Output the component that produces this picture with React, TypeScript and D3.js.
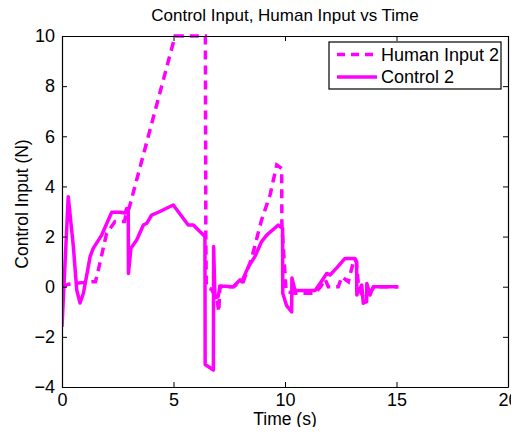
import React, { useEffect, useRef } from 'react';
import * as d3 from 'd3';

// Control 2 (solid)
const ctrlT = [0, 0.28, 0.51, 0.66, 0.81, 0.96, 1.18, 1.26, 1.4, 1.78, 2.23, 2.6, 2.83, 2.9, 2.97, 2.98, 3.09, 3.35, 3.65, 3.8, 4.02, 4.32, 4.99, 5.66, 5.89, 6.41, 6.42, 6.79, 6.8, 6.86, 7.0, 7.09, 7.68, 7.98, 8.06, 8.36, 8.65, 8.95, 9.18, 9.7, 9.89, 9.9, 10.07, 10.3, 10.31, 10.45, 11.35, 11.57, 11.87, 12.02, 12.32, 12.69, 13.14, 13.21, 13.22, 13.44, 13.51, 13.66, 13.67, 13.81, 13.96, 15.08];
const ctrlV = [-1.6, 3.59, 1.6, -0.13, -0.65, -0.26, 0.8, 1.2, 1.53, 2.06, 2.97, 2.97, 2.94, 3.12, 3.1, 0.53, 1.53, 1.86, 2.46, 2.53, 2.86, 2.97, 3.26, 2.46, 2.46, 2.0, -3.1, -3.32, 1.6, -0.45, -0.4, 0.03, 0.0, 0.27, 0.2, 0.8, 1.2, 1.8, 2.06, 2.46, 2.33, -0.26, -0.75, -1.0, 0.35, -0.15, -0.15, 0.13, 0.53, 0.47, 0.75, 1.13, 1.13, 1.0, -0.33, 0.07, -0.66, -0.6, 0.13, -0.33, 0.0, 0.0];

// Human Input 2 (dashed)
const humanT = [0, 0.3, 1.33, 1.5, 1.63, 2.0, 2.38, 2.8, 2.9, 3.0, 3.27, 5.07, 6.43, 6.45, 6.47, 6.7, 6.95, 7.03, 7.08, 7.7, 8.0, 8.13, 8.5, 8.95, 9.33, 9.63, 9.85, 9.86, 10.05, 10.45, 11.35, 11.6, 11.8, 11.94, 12.39, 12.55, 12.84, 13.1, 13.2, 13.3, 13.5, 13.65, 14.0, 15.08];
const humanV = [0.0, 0.1, 0.2, 0.2, 0.67, 2.13, 2.6, 2.6, 3.0, 3.1, 4.0, 10.0, 10.0, 2.0, 0.0, -0.1, -0.5, -1.0, 0.0, 0.0, 0.2, 0.2, 1.13, 2.66, 3.66, 4.86, 4.72, 2.5, -0.2, -0.26, -0.26, 0.0, 0.3, 0.0, 0.0, 0.4, 0.2, 1.1, 1.0, 0.0, -0.4, -0.4, 0.0, 0.0];

const xTicks = [0, 5, 10, 15, 20];
const yTicks = [-4, -2, 0, 2, 4, 6, 8, 10];
const legendLabels = ['Human Input 2', 'Control 2'];

const App = () => {
  const ref = useRef<SVGSVGElement>(null);

  useEffect(() => {
    const width = 519;
    const height = 435;
    const m = { left: 62, right: 11, top: 36, bottom: 48 };
    const svg = d3.select(ref.current);
    svg.selectAll('*').remove();

    const x = d3.scaleLinear().domain([0, 20]).range([m.left, width - m.right]);
    const y = d3.scaleLinear().domain([-4, 10]).range([height - m.bottom, m.top]);
    const font = 'Liberation Sans, Arial, sans-serif';
    const magenta = '#ff00ff';

    svg.append('rect').attr('width', width).attr('height', height).attr('fill', '#fff');

    const clip = svg.append('clipPath').attr('id', 'plotclip');
    clip.append('rect')
      .attr('x', m.left).attr('y', m.top - 2)
      .attr('width', width - m.left - m.right).attr('height', height - m.top - m.bottom + 4);

    const line = d3.line<[number, number]>().x(d => x(d[0])).y(d => y(d[1]));
    const human = humanT.map((t, i) => [t, humanV[i]] as [number, number]);
    const ctrl = ctrlT.map((t, i) => [t, ctrlV[i]] as [number, number]);

    const plot = svg.append('g').attr('clip-path', 'url(#plotclip)');
    plot.append('path')
      .attr('d', line(human))
      .attr('fill', 'none')
      .attr('stroke', magenta)
      .attr('stroke-width', 3.5)
      .attr('stroke-dasharray', '9,6');
    plot.append('path')
      .attr('d', line(ctrl))
      .attr('fill', 'none')
      .attr('stroke', magenta)
      .attr('stroke-width', 3.5)
      .attr('stroke-linejoin', 'round');

    // box and axes
    const axes = svg.append('g');
    const bottomAxis = axes.append('g')
      .attr('transform', `translate(0,${height - m.bottom})`)
      .call(d3.axisBottom(x).tickValues(xTicks).tickSizeInner(-5).tickSizeOuter(0).tickPadding(6));
    const topAxis = axes.append('g')
      .attr('transform', `translate(0,${m.top})`)
      .call(d3.axisTop(x).tickValues(xTicks).tickSizeInner(-5).tickSizeOuter(0).tickFormat(() => ''));
    const leftAxis = axes.append('g')
      .attr('transform', `translate(${m.left},0)`)
      .call(d3.axisLeft(y).tickValues(yTicks).tickSizeInner(-5).tickSizeOuter(0).tickPadding(7).tickFormat(d => d3.format('')(d as number).replace('-', '\u2212')));
    const rightAxis = axes.append('g')
      .attr('transform', `translate(${width - m.right},0)`)
      .call(d3.axisRight(y).tickValues(yTicks).tickSizeInner(-5).tickSizeOuter(0).tickFormat(() => ''));

    [bottomAxis, topAxis, leftAxis, rightAxis].forEach(a => {
      a.selectAll('path').attr('stroke', '#000').attr('stroke-width', 1.2);
      a.selectAll('line').attr('stroke', '#000');
      a.selectAll('text').attr('fill', '#000').style('font-family', font).style('font-size', '18px');
    });

    // titles
    svg.append('text')
      .attr('x', (m.left + width - m.right) / 2).attr('y', 21)
      .attr('text-anchor', 'middle')
      .style('font-family', font).style('font-size', '17px')
      .text('Control Input, Human Input vs Time');
    svg.append('text')
      .attr('x', x(10)).attr('y', 425)
      .attr('text-anchor', 'middle')
      .style('font-family', font).style('font-size', '17.5px')
      .text('Time (s)');
    svg.append('text')
      .attr('transform', `translate(28,${y(3.3)}) rotate(-90)`)
      .attr('text-anchor', 'middle')
      .style('font-family', font).style('font-size', '17.5px')
      .text('Control Input (N)');

    // legend
    const lg = svg.append('g').attr('transform', 'translate(329,42)');
    lg.append('rect').attr('width', 172).attr('height', 47)
      .attr('fill', '#fff').attr('stroke', '#000').attr('stroke-width', 1.2);
    legendLabels.forEach((lab, i) => {
      const yy = 12.5 + i * 22.5;
      lg.append('line')
        .attr('x1', 8).attr('x2', 48).attr('y1', yy).attr('y2', yy)
        .attr('stroke', magenta).attr('stroke-width', 3.5)
        .attr('stroke-dasharray', i === 0 ? '8,6' : null);
      lg.append('text')
        .attr('x', 52).attr('y', yy).attr('dy', '0.36em')
        .style('font-family', font).style('font-size', '18px')
        .text(lab);
    });
  }, []);

  return <svg ref={ref} width={519} height={435} style={{ display: 'block', margin: '-8px' }} />;
};

export default App;
